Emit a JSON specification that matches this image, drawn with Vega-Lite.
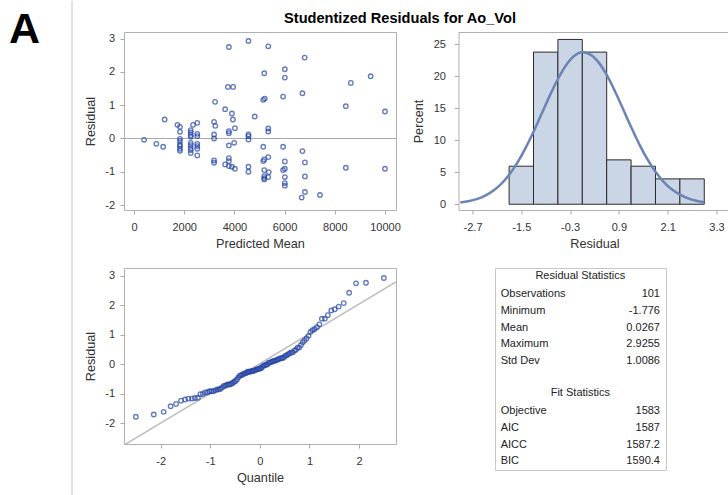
{
  "$schema": "https://vega.github.io/schema/vega-lite/v6.json",
  "padding": 0,
  "background": "white",
  "config": {
    "font": "Liberation Sans",
    "locale": {"number": {"decimal": ".", "thousands": ",", "grouping": [3], "currency": ["$", ""], "minus": "-"}},
    "view": {"stroke": "#b0b0b0", "strokeWidth": 1},
    "axis": {"domain": false, "grid": false, "tickColor": "#a8a8a8", "tickSize": 4, "labelFontSize": 11, "labelColor": "#333333", "titleFontSize": 12.7, "titleFontWeight": "normal", "titleColor": "#333333", "labelFlush": false, "labelOverlap": false},
    "axisX": {"labelPadding": 7, "titlePadding": 5},
    "axisY": {"labelPadding": 5.5, "titlePadding": 7}
  },
  "datasets": {
    "resid": [
      {"pm":4560,"res":2.93},{"pm":3780,"res":2.75},{"pm":5350,"res":2.77},{"pm":6800,"res":2.43},{"pm":6010,"res":2.08},
      {"pm":5190,"res":1.96},{"pm":6010,"res":1.83},{"pm":9430,"res":1.87},{"pm":8640,"res":1.67},{"pm":3740,"res":1.55},
      {"pm":3950,"res":1.55},{"pm":6710,"res":1.36},{"pm":5940,"res":1.26},{"pm":5150,"res":1.16},{"pm":5210,"res":1.20},
      {"pm":3230,"res":1.10},{"pm":3630,"res":0.88},{"pm":3900,"res":0.75},{"pm":3940,"res":0.57},{"pm":4810,"res":0.66},
      {"pm":8440,"res":0.97},{"pm":10000,"res":0.81},{"pm":1220,"res":0.57},{"pm":1730,"res":0.41},{"pm":1830,"res":0.35},
      {"pm":2350,"res":0.41},{"pm":2520,"res":0.47},{"pm":3190,"res":0.50},{"pm":3240,"res":0.38},{"pm":4020,"res":0.31},
      {"pm":3780,"res":0.22},{"pm":3780,"res":0.16},{"pm":1830,"res":0.20},{"pm":2260,"res":0.25},{"pm":2260,"res":0.18},
      {"pm":2260,"res":0.10},{"pm":2260,"res":0.05},{"pm":2520,"res":0.14},{"pm":2520,"res":0.07},{"pm":3190,"res":0.12},
      {"pm":3190,"res":0.00},{"pm":4560,"res":0.12},{"pm":4560,"res":0.07},{"pm":5350,"res":0.30},{"pm":5350,"res":0.21},
      {"pm":400,"res":-0.04},{"pm":890,"res":-0.16},{"pm":1160,"res":-0.25},{"pm":1830,"res":-0.01},{"pm":1830,"res":-0.08},
      {"pm":1830,"res":-0.18},{"pm":1830,"res":-0.23},{"pm":1830,"res":-0.31},{"pm":1830,"res":-0.37},{"pm":2260,"res":-0.13},
      {"pm":2260,"res":-0.20},{"pm":2260,"res":-0.29},{"pm":2260,"res":-0.35},{"pm":2260,"res":-0.44},{"pm":2520,"res":-0.16},
      {"pm":2520,"res":-0.23},{"pm":2520,"res":-0.31},{"pm":2520,"res":-0.51},{"pm":4560,"res":-0.03},{"pm":3780,"res":-0.21},
      {"pm":3990,"res":-0.13},{"pm":5150,"res":-0.25},{"pm":5940,"res":-0.25},{"pm":6710,"res":-0.38},{"pm":5350,"res":-0.56},
      {"pm":5190,"res":-0.63},{"pm":5150,"res":-0.68},{"pm":3190,"res":-0.66},{"pm":3190,"res":-0.73},{"pm":3780,"res":-0.59},
      {"pm":3780,"res":-0.68},{"pm":6010,"res":-0.69},{"pm":6810,"res":-0.72},{"pm":3630,"res":-0.78},{"pm":3780,"res":-0.83},
      {"pm":3900,"res":-0.85},{"pm":4020,"res":-0.91},{"pm":4560,"res":-0.85},{"pm":4560,"res":-1.00},{"pm":5190,"res":-0.95},
      {"pm":5190,"res":-1.13},{"pm":5190,"res":-1.19},{"pm":5190,"res":-1.23},{"pm":5370,"res":-1.01},{"pm":5350,"res":-1.16},
      {"pm":5940,"res":-0.95},{"pm":6010,"res":-0.91},{"pm":6010,"res":-1.16},{"pm":6010,"res":-1.34},{"pm":6010,"res":-1.42},
      {"pm":6810,"res":-1.14},{"pm":6810,"res":-1.61},{"pm":6680,"res":-1.776},{"pm":7410,"res":-1.70},{"pm":8440,"res":-0.88},
      {"pm":10000,"res":-0.91}
    ],
    "hist": [
      {"bin_start":-1.8,"bin_end":-1.2,"percent":5.94},
      {"bin_start":-1.2,"bin_end":-0.6,"percent":23.76},
      {"bin_start":-0.6,"bin_end":0.0,"percent":25.74},
      {"bin_start":0.0,"bin_end":0.6,"percent":23.76},
      {"bin_start":0.6,"bin_end":1.2,"percent":6.93},
      {"bin_start":1.2,"bin_end":1.8,"percent":5.94},
      {"bin_start":1.8,"bin_end":2.4,"percent":3.96},
      {"bin_start":2.4,"bin_end":3.0,"percent":3.96}
    ],
    "normal": [
      {"x":-3.0,"pct":0.263},{"x":-2.8,"pct":0.467},{"x":-2.6,"pct":0.799},{"x":-2.4,"pct":1.313},{"x":-2.2,"pct":2.073},
      {"x":-2.0,"pct":3.149},{"x":-1.8,"pct":4.599},{"x":-1.6,"pct":6.459},{"x":-1.4,"pct":8.72},{"x":-1.2,"pct":11.32},
      {"x":-1.0,"pct":14.13},{"x":-0.8,"pct":16.96},{"x":-0.6,"pct":19.56},{"x":-0.4,"pct":21.70},{"x":-0.2,"pct":23.14},
      {"x":0.0,"pct":23.72},{"x":0.2,"pct":23.38},{"x":0.4,"pct":22.16},{"x":0.6,"pct":20.19},{"x":0.8,"pct":17.69},
      {"x":1.0,"pct":14.90},{"x":1.2,"pct":12.07},{"x":1.4,"pct":9.39},{"x":1.6,"pct":7.03},{"x":1.8,"pct":5.06},
      {"x":2.0,"pct":3.50},{"x":2.2,"pct":2.33},{"x":2.4,"pct":1.49},{"x":2.6,"pct":0.916},{"x":2.8,"pct":0.542},
      {"x":3.0,"pct":0.308}
    ],
    "qq": [
      {"q":-2.50,"r":-1.776},{"q":-2.14,"r":-1.70},{"q":-1.94,"r":-1.61},{"q":-1.80,"r":-1.42},{"q":-1.69,"r":-1.34},
      {"q":-1.59,"r":-1.23},{"q":-1.51,"r":-1.19},{"q":-1.44,"r":-1.16},{"q":-1.37,"r":-1.16},{"q":-1.31,"r":-1.14},
      {"q":-1.25,"r":-1.13},{"q":-1.20,"r":-1.01},{"q":-1.15,"r":-1.00},{"q":-1.105,"r":-0.95},{"q":-1.06,"r":-0.95},
      {"q":-1.02,"r":-0.91},{"q":-0.98,"r":-0.91},{"q":-0.94,"r":-0.91},{"q":-0.90,"r":-0.88},{"q":-0.864,"r":-0.85},
      {"q":-0.828,"r":-0.85},{"q":-0.794,"r":-0.83},{"q":-0.761,"r":-0.78},{"q":-0.728,"r":-0.73},{"q":-0.696,"r":-0.72},
      {"q":-0.665,"r":-0.69},{"q":-0.634,"r":-0.68},{"q":-0.604,"r":-0.68},{"q":-0.575,"r":-0.66},{"q":-0.546,"r":-0.63},
      {"q":-0.517,"r":-0.59},{"q":-0.489,"r":-0.56},{"q":-0.462,"r":-0.51},{"q":-0.434,"r":-0.44},{"q":-0.407,"r":-0.38},
      {"q":-0.380,"r":-0.37},{"q":-0.354,"r":-0.35},{"q":-0.328,"r":-0.31},{"q":-0.302,"r":-0.31},{"q":-0.276,"r":-0.29},
      {"q":-0.250,"r":-0.25},{"q":-0.225,"r":-0.25},{"q":-0.199,"r":-0.25},{"q":-0.174,"r":-0.23},{"q":-0.149,"r":-0.23},
      {"q":-0.124,"r":-0.21},{"q":-0.099,"r":-0.20},{"q":-0.074,"r":-0.18},{"q":-0.050,"r":-0.16},{"q":-0.025,"r":-0.16},
      {"q":0.0,"r":-0.13},{"q":0.025,"r":-0.13},{"q":0.050,"r":-0.08},{"q":0.074,"r":-0.04},{"q":0.099,"r":-0.03},
      {"q":0.124,"r":-0.01},{"q":0.149,"r":0.00},{"q":0.174,"r":0.05},{"q":0.199,"r":0.07},{"q":0.225,"r":0.07},
      {"q":0.250,"r":0.10},{"q":0.276,"r":0.12},{"q":0.302,"r":0.12},{"q":0.328,"r":0.14},{"q":0.354,"r":0.16},
      {"q":0.380,"r":0.18},{"q":0.407,"r":0.20},{"q":0.434,"r":0.21},{"q":0.462,"r":0.22},{"q":0.489,"r":0.25},
      {"q":0.517,"r":0.30},{"q":0.546,"r":0.31},{"q":0.575,"r":0.35},{"q":0.604,"r":0.38},{"q":0.634,"r":0.41},
      {"q":0.665,"r":0.41},{"q":0.696,"r":0.47},{"q":0.728,"r":0.50},{"q":0.761,"r":0.57},{"q":0.794,"r":0.57},
      {"q":0.828,"r":0.66},{"q":0.864,"r":0.75},{"q":0.90,"r":0.81},{"q":0.94,"r":0.88},{"q":0.98,"r":0.97},
      {"q":1.02,"r":1.10},{"q":1.06,"r":1.16},{"q":1.105,"r":1.20},{"q":1.15,"r":1.26},{"q":1.20,"r":1.36},
      {"q":1.25,"r":1.55},{"q":1.31,"r":1.55},{"q":1.37,"r":1.67},{"q":1.44,"r":1.83},{"q":1.51,"r":1.87},
      {"q":1.59,"r":1.96},{"q":1.69,"r":2.08},{"q":1.80,"r":2.43},{"q":1.94,"r":2.75},{"q":2.14,"r":2.77},
      {"q":2.50,"r":2.93}
    ],
    "refline": [{"q":-2.74,"r":-2.737},{"q":2.745,"r":2.796}],
    "stats": [
      {"row":0,"kind":"header","label":"Residual Statistics","value":""},
      {"row":1,"kind":"item","label":"Observations","value":"101"},
      {"row":2,"kind":"item","label":"Minimum","value":"-1.776"},
      {"row":3,"kind":"item","label":"Mean","value":"0.0267"},
      {"row":4,"kind":"item","label":"Maximum","value":"2.9255"},
      {"row":5,"kind":"item","label":"Std Dev","value":"1.0086"},
      {"row":7,"kind":"header","label":"Fit Statistics","value":""},
      {"row":8,"kind":"item","label":"Objective","value":"1583"},
      {"row":9,"kind":"item","label":"AIC","value":"1587"},
      {"row":10,"kind":"item","label":"AICC","value":"1587.2"},
      {"row":11,"kind":"item","label":"BIC","value":"1590.4"}
    ]
  },
  "spacing": 11,
  "hconcat": [
    {
      "width": 72,
      "height": 495,
      "view": {"stroke": null},
      "data": {"values": [{}]},
      "layer": [
        {
          "mark": {"type": "rule", "color": "#c4c4c4", "strokeWidth": 1},
          "encoding": {"x": {"datum": 1, "type": "quantitative", "scale": {"domain": [0, 1], "nice": false}, "axis": null}}
        },
        {
          "mark": {"type": "text", "text": "A", "fontSize": 43, "fontWeight": "bold", "align": "left", "baseline": "alphabetic", "dx": -27, "dy": -205.5, "color": "#000000"}
        }
      ]
    },
    {
      "spacing": 0,
      "vconcat": [
        {
          "width": 552,
          "height": 29.5,
          "view": {"stroke": null},
          "data": {"values": [{}]},
          "mark": {"type": "text", "text": "Studentized Residuals for Ao_Vol", "fontSize": 14.6, "fontWeight": "bold", "baseline": "alphabetic", "dy": 7.5, "color": "#000000"}
        },
        {
          "spacing": 16,
          "vconcat": [
            {
              "spacing": 10.5,
              "hconcat": [
                {
                  "width": 272,
                  "height": 178,
                  "layer": [
                    {
                      "data": {"values": [{}]},
                      "mark": {"type": "rule", "color": "#a8a8a8", "strokeWidth": 1},
                      "encoding": {
                        "y": {"datum": 0, "type": "quantitative", "scale": {"domain": [-2.15, 3.2], "nice": false, "zero": false}, "axis": {"values": [-2, -1, 0, 1, 2, 3], "title": "Residual"}}
                      }
                    },
                    {
                      "data": {"name": "resid"},
                      "mark": {"type": "point", "shape": "circle", "filled": false, "color": "#2343a3", "size": 20, "strokeWidth": 1.35},
                      "encoding": {
                        "x": {"field": "pm", "type": "quantitative", "scale": {"domain": [-400, 10440], "nice": false, "zero": false}, "axis": {"values": [0, 2000, 4000, 6000, 8000, 10000], "format": "d", "title": "Predicted Mean"}},
                        "y": {"field": "res", "type": "quantitative", "scale": {"domain": [-2.15, 3.2], "nice": false, "zero": false}, "axis": {"values": [-2, -1, 0, 1, 2, 3], "title": "Residual"}}
                      }
                    }
                  ]
                },
                {
                  "width": 272,
                  "height": 178,
                  "layer": [
                    {
                      "data": {"name": "hist"},
                      "mark": {"type": "rect", "fill": "#cad5e5", "stroke": "#2b2b2b", "strokeWidth": 1},
                      "encoding": {
                        "x": {"field": "bin_start", "type": "quantitative", "scale": {"domain": [-3.045, 3.645], "nice": false, "zero": false}, "axis": {"values": [-2.7, -1.5, -0.3, 0.9, 2.1, 3.3], "format": ".1f", "title": "Residual"}},
                        "x2": {"field": "bin_end"},
                        "y": {"field": "percent", "type": "quantitative", "scale": {"domain": [-0.9, 26.9], "nice": false, "zero": false}, "axis": {"values": [0, 5, 10, 15, 20, 25], "title": "Percent", "labelPadding": 9, "titlePadding": 7.5}},
                        "y2": {"datum": 0}
                      }
                    },
                    {
                      "data": {"name": "normal"},
                      "mark": {"type": "line", "color": "#6b84b4", "strokeWidth": 2.5, "interpolate": "monotone"},
                      "encoding": {
                        "x": {"field": "x", "type": "quantitative", "scale": {"domain": [-3.045, 3.645], "nice": false, "zero": false}, "axis": {"values": [-2.7, -1.5, -0.3, 0.9, 2.1, 3.3], "format": ".1f", "title": "Residual"}},
                        "y": {"field": "pct", "type": "quantitative", "scale": {"domain": [-0.9, 26.9], "nice": false, "zero": false}, "axis": {"values": [0, 5, 10, 15, 20, 25], "title": "Percent", "labelPadding": 9, "titlePadding": 7.5}}
                      }
                    }
                  ]
                }
              ]
            },
            {
              "spacing": 97,
              "hconcat": [
                {
                  "width": 272,
                  "height": 176,
                  "layer": [
                    {
                      "data": {"name": "refline"},
                      "mark": {"type": "line", "color": "#bcbcbc", "strokeWidth": 1.5, "clip": true},
                      "encoding": {
                        "x": {"field": "q", "type": "quantitative", "scale": {"domain": [-2.74, 2.745], "nice": false, "zero": false}, "axis": {"values": [-2, -1, 0, 1, 2], "title": "Quantile"}},
                        "y": {"field": "r", "type": "quantitative", "scale": {"domain": [-2.70, 3.27], "nice": false, "zero": false}, "axis": {"values": [-2, -1, 0, 1, 2, 3], "title": "Residual"}}
                      }
                    },
                    {
                      "data": {"name": "qq"},
                      "mark": {"type": "point", "shape": "circle", "filled": false, "color": "#2343a3", "size": 20, "strokeWidth": 1.35},
                      "encoding": {
                        "x": {"field": "q", "type": "quantitative", "scale": {"domain": [-2.74, 2.745], "nice": false, "zero": false}, "axis": {"values": [-2, -1, 0, 1, 2], "title": "Quantile"}},
                        "y": {"field": "r", "type": "quantitative", "scale": {"domain": [-2.70, 3.27], "nice": false, "zero": false}, "axis": {"values": [-2, -1, 0, 1, 2, 3], "title": "Residual"}}
                      }
                    }
                  ]
                },
                {
                  "width": 171,
                  "height": 202,
                  "view": {"stroke": "#c8c8c8"},
                  "data": {"name": "stats"},
                  "layer": [
                    {
                      "transform": [{"filter": "datum.kind == 'header'"}],
                      "mark": {"type": "text", "align": "center", "baseline": "middle", "fontSize": 11, "color": "#222222", "dy": -2},
                      "encoding": {
                        "x": {"datum": 0.5, "type": "quantitative", "scale": {"domain": [-0.0358, 1.0377], "nice": false, "zero": false}, "axis": null},
                        "y": {"field": "row", "type": "quantitative", "scale": {"domain": [-0.575, 11.52], "reverse": true, "nice": false, "zero": false}, "axis": null},
                        "text": {"field": "label", "type": "nominal"}
                      }
                    },
                    {
                      "transform": [{"filter": "datum.kind == 'item'"}],
                      "mark": {"type": "text", "align": "left", "baseline": "middle", "fontSize": 11, "color": "#222222"},
                      "encoding": {
                        "x": {"datum": 0, "type": "quantitative"},
                        "y": {"field": "row", "type": "quantitative"},
                        "text": {"field": "label", "type": "nominal"}
                      }
                    },
                    {
                      "transform": [{"filter": "datum.kind == 'item'"}],
                      "mark": {"type": "text", "align": "right", "baseline": "middle", "fontSize": 11, "color": "#222222"},
                      "encoding": {
                        "x": {"datum": 1, "type": "quantitative"},
                        "y": {"field": "row", "type": "quantitative"},
                        "text": {"field": "value", "type": "nominal"}
                      }
                    }
                  ]
                }
              ]
            }
          ]
        }
      ]
    }
  ]
}
